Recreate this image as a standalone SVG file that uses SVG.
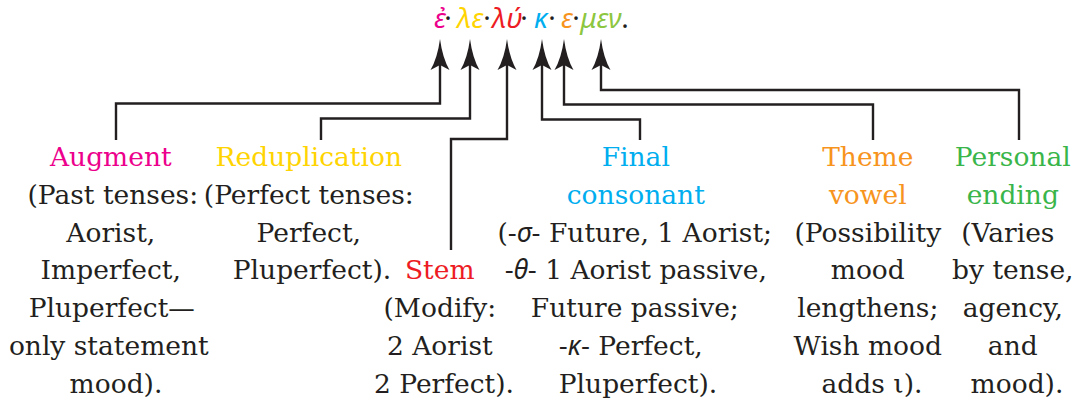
<svg xmlns="http://www.w3.org/2000/svg" width="1081" height="406" viewBox="0 0 1081 406">
<style>
  .t { font-family: "DejaVu Serif", "Liberation Serif", serif; font-size: 26.5px; fill: #231f20; text-anchor: middle; }
  .gk { font-family: "Noto Sans", "DejaVu Sans", sans-serif; font-style: italic; }
  .word { font-family: "Noto Sans", "DejaVu Sans", sans-serif; font-style: italic; font-size: 28px; text-anchor: middle; fill: #231f20; }
  .dot { font-style: normal; }
  .conn { fill: none; stroke: #231f20; stroke-width: 2.4; marker-end: url(#ah); }
  .mag { fill: #ec008c; } .yel { fill: #ffd400; } .red { fill: #ed1c24; }
  .cya { fill: #00aeef; } .ora { fill: #f7941d; } .grn { fill: #39b54a; } .lgr { fill: #8dc63f; }
</style>
<defs>
  <marker id="ah" markerUnits="userSpaceOnUse" viewBox="-12 -12 40 24" markerWidth="40" markerHeight="24" refX="0" refY="0" orient="auto" overflow="visible">
    <path d="M23,0 Q4,2.5 -8,9.5 L-3,0 L-8,-9.5 Q4,-2.5 23,0 Z" fill="#231f20"/>
  </marker>
</defs>

<g id="word">
  <text class="word" y="28">
    <tspan x="440" class="mag">ἐ</tspan><tspan x="448" class="dot">·</tspan><tspan x="470" class="yel">λε</tspan><tspan x="487" class="dot">·</tspan><tspan x="507" class="red">λύ</tspan><tspan x="524" class="dot">·</tspan><tspan x="541" class="cya">κ</tspan><tspan x="552" class="dot">·</tspan><tspan x="567" class="ora">ε</tspan><tspan x="576" class="dot">·</tspan><tspan x="601" class="lgr">μεν</tspan><tspan x="625" class="dot">.</tspan>
  </text>
</g>

<g id="connectors">
  <path class="conn" d="M116,140 V103.5 H440 V62"/>
  <path class="conn" d="M321,140 V118.5 H470 V62"/>
  <path class="conn" d="M451,250 V139 H507 V62"/>
  <path class="conn" d="M640,140 V119.5 H542 V62"/>
  <path class="conn" d="M873,140 V104.5 H564 V62"/>
  <path class="conn" d="M1019,140 V90 H601 V62"/>
</g>

<g id="augment">
  <text class="t">
    <tspan x="115" y="166" class="mag">Augment</tspan>
    <tspan x="117" y="204">(Past tenses:</tspan>
    <tspan x="115" y="241.5">Aorist,</tspan>
    <tspan x="115" y="279">Imperfect,</tspan>
    <tspan x="116" y="317">Pluperfect—</tspan>
    <tspan x="113" y="355">only statement</tspan>
    <tspan x="116" y="393">mood).</tspan>
  </text>
</g>

<g id="reduplication">
  <text class="t">
    <tspan x="313" y="166" class="yel">Reduplication</tspan>
    <tspan x="313" y="204">(Perfect tenses:</tspan>
    <tspan x="313" y="241.5">Perfect,</tspan>
    <tspan x="312" y="279">Pluperfect).</tspan>
  </text>
</g>

<g id="stem">
  <text class="t">
    <tspan x="444" y="279" class="red">Stem</tspan>
    <tspan x="444" y="317">(Modify:</tspan>
    <tspan x="444" y="355">2 Aorist</tspan>
    <tspan x="444" y="393">2 Perfect).</tspan>
  </text>
</g>

<g id="final-consonant">
  <text class="t">
    <tspan x="640" y="166" class="cya">Final</tspan>
    <tspan x="640" y="204" class="cya">consonant</tspan>
    <tspan x="639" y="241.5">(-<tspan class="gk">σ</tspan>- Future, 1 Aorist;</tspan>
    <tspan x="640" y="279">-<tspan class="gk">θ</tspan>- 1 Aorist passive,</tspan>
    <tspan x="639" y="317">Future passive;</tspan>
    <tspan x="635" y="355">-<tspan class="gk">κ</tspan>- Perfect,</tspan>
    <tspan x="638" y="393">Pluperfect).</tspan>
  </text>
</g>

<g id="theme-vowel">
  <text class="t">
    <tspan x="872" y="166" class="ora">Theme</tspan>
    <tspan x="872" y="204" class="ora">vowel</tspan>
    <tspan x="872" y="241.5">(Possibility</tspan>
    <tspan x="872" y="279">mood</tspan>
    <tspan x="872" y="317">lengthens;</tspan>
    <tspan x="872" y="355">Wish mood</tspan>
    <tspan x="872" y="393">adds ι).</tspan>
  </text>
</g>

<g id="personal-ending">
  <text class="t">
    <tspan x="1017" y="166" class="grn">Personal</tspan>
    <tspan x="1017" y="204" class="grn">ending</tspan>
    <tspan x="1012" y="241.5">(Varies</tspan>
    <tspan x="1017" y="279">by tense,</tspan>
    <tspan x="1017" y="317">agency,</tspan>
    <tspan x="1017" y="355">and</tspan>
    <tspan x="1017" y="393">mood).</tspan>
  </text>
</g>
</svg>
